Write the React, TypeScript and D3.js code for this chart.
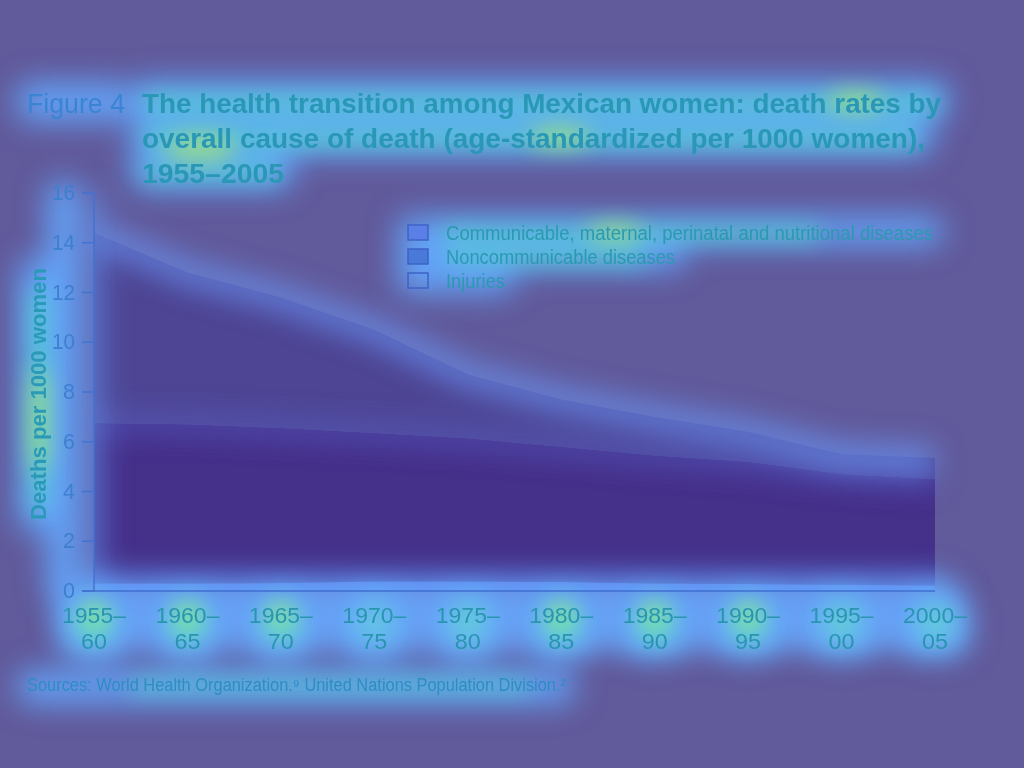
import React from "react";
import * as d3 from "d3";

// periods on the x axis, split into the two printed lines
const periodStart = ["1955–", "1960–", "1965–", "1970–", "1975–", "1980–", "1985–", "1990–", "1995–", "2000–"];
const periodEnd = ["60", "65", "70", "75", "80", "85", "90", "95", "00", "05"];

// deaths per 1000 women, stacked bottom -> top
const injuries = [0.3, 0.3, 0.32, 0.38, 0.38, 0.36, 0.3, 0.28, 0.25, 0.22];
const noncommunicable = [6.45, 6.4, 6.23, 5.97, 5.76, 5.44, 5.15, 4.92, 4.45, 4.28];
const communicable = [7.65, 6.1, 5.25, 4.15, 2.56, 1.9, 1.55, 1.2, 0.8, 0.85];

const yTicks = [0, 2, 4, 6, 8, 10, 12, 14, 16];
const legendLabels = [
    "Communicable, maternal, perinatal and nutritional diseases",
    "Noncommunicable diseases",
    "Injuries",
];
const titleLines = [
    "The health transition among Mexican women: death rates by",
    "overall cause of death (age-standardized per 1000 women),",
    "1955–2005",
];
const sourceNote = "Sources: World Health Organization.⁹ United Nations Population Division.²";

const W = 1024;
const H = 768;
const FONT = "'Liberation Sans Narrow', 'Liberation Sans', Arial, sans-serif";

const keys = ["injuries", "noncommunicable", "communicable"];
const fills: Record<string, string> = {
    injuries: "#5a74dc",
    noncommunicable: "#45308a",
    communicable: "#4e4594",
};

// heat overlay regions [x, y, w, h]
const blueGlow = [
    [16, 82, 116, 40],
    [130, 80, 820, 40], [130, 116, 804, 40], [130, 150, 164, 40],
    [396, 216, 548, 30], [396, 240, 290, 30], [396, 264, 120, 30],
    [18, 258, 42, 274],
    [46, 180, 36, 422],
    [16, 670, 560, 34],
];
const cyanGlow = [
    [142, 94, 796, 18], [142, 129, 776, 18], [142, 164, 136, 16],
    [440, 226, 380, 14], [446, 250, 200, 14],
    [30, 290, 18, 220],
    [130, 680, 400, 12],
];
const hotSpots = [
    [200, 148, 36, 13], [855, 101, 28, 10], [560, 137, 30, 10],
    [615, 232, 28, 9], [39, 420, 9, 55],
];

const App = () => {
    const x = d3.scaleLinear().domain([0, periodEnd.length - 1]).range([94, 935]);
    const y = d3.scaleLinear().domain([0, 16]).range([591, 193]);

    const rows = periodEnd.map((_, i) => ({
        injuries: injuries[i],
        noncommunicable: noncommunicable[i],
        communicable: communicable[i],
    }));
    const series = d3.stack<any>().keys(keys)(rows);
    const area = d3
        .area<any>()
        .x((_, i) => x(i))
        .y0(d => y(d[0]))
        .y1(d => y(d[1]));
    const line = d3
        .line<any>()
        .x((_, i) => x(i))
        .y(d => y(d[1]));

    const tickHeat = [0.75, 0.75, 0.7, 0.35, 0.45, 0.75, 0.75, 0.7, 0.5, 0.45];

    return (
        <svg width={W} height={H} style={{ position: "absolute", left: 0, top: 0, display: "block" }}
            fontFamily={FONT}>
            <defs>
                <filter id="blurBig" filterUnits="userSpaceOnUse" x={-200} y={-200} width={W + 400} height={H + 400}>
                    <feGaussianBlur stdDeviation={15} />
                </filter>
                <filter id="blurMid" filterUnits="userSpaceOnUse" x={-200} y={-200} width={W + 400} height={H + 400}>
                    <feGaussianBlur stdDeviation={11} />
                </filter>
                <filter id="blurSoft" filterUnits="userSpaceOnUse" x={-200} y={-200} width={W + 400} height={H + 400}>
                    <feGaussianBlur stdDeviation={14} />
                </filter>
            </defs>
            <rect width={W} height={H} fill="#615a9b" />

            {/* stacked areas */}
            {series.map(s => (
                <path key={s.key} d={area(s) || ""} fill={fills[s.key]} />
            ))}

            {/* heat overlay */}
            <g filter="url(#blurSoft)">
                <path d={line(series[2]) || ""} fill="none" stroke="#6a96f6" strokeWidth={24} opacity={0.75} />
                <path d={line(series[1]) || ""} fill="none" stroke="#5866d0" strokeWidth={16} opacity={0.6} />
                <line x1={94} x2={94} y1={y(16)} y2={y(0)} stroke="#6494f0" strokeWidth={20} opacity={0.55} />
                <rect x={60} y={y(0) - 16} width={900} height={74} rx={24} fill="#68a6ff" opacity={0.85} />
            </g>
            <g filter="url(#blurBig)">
                {blueGlow.map((b, i) => (
                    <rect key={i} x={b[0]} y={b[1]} width={b[2]} height={b[3]} rx={16} fill="#64a8ff" opacity={0.9} />
                ))}
                {periodStart.map((p, i) => (
                    <rect key={p} x={x(i) - 34} y={596} width={68} height={60} rx={22} fill="#66b0ff" />
                ))}
            </g>
            <g filter="url(#blurMid)">
                {cyanGlow.map((b, i) => (
                    <rect key={i} x={b[0]} y={b[1]} width={b[2]} height={b[3]} rx={8} fill="#4fdcc8" opacity={0.7} />
                ))}
                {periodStart.map((p, i) => (
                    <ellipse key={p} cx={x(i)} cy={622} rx={18} ry={20} fill="#5ee6b0" opacity={tickHeat[i]} />
                ))}
            </g>
            <g filter="url(#blurMid)">
                {hotSpots.map((h, i) => (
                    <ellipse key={i} cx={h[0]} cy={h[1]} rx={h[2]} ry={h[3]} fill="#b4f060" opacity={0.65} />
                ))}
                {periodStart.map((p, i) => (
                    tickHeat[i] > 0.6
                        ? <ellipse key={p} cx={x(i)} cy={615} rx={11} ry={9} fill="#b8f060" opacity={0.7} />
                        : null
                ))}
            </g>

            {/* axes */}
            <line x1={94} x2={94} y1={y(16)} y2={y(0)} stroke="#4272d2" strokeWidth={1.5} />
            <line x1={82} x2={935} y1={y(0)} y2={y(0)} stroke="#3f6fd0" strokeWidth={1.5} />
            {yTicks.map(v => (
                <line key={v} x1={82} x2={94} y1={y(v)} y2={y(v)} stroke="#4272d2" strokeWidth={1.5} />
            ))}
            {yTicks.map(v => (
                <text key={"t" + v} x={75} y={y(v) + 7} fontSize={22} textAnchor="end" fill="#3d7fd0"
                    textLength={v >= 10 ? 23 : 12} lengthAdjust="spacingAndGlyphs">{v}</text>
            ))}
            {periodStart.map((p, i) => (
                <text key={p} y={623} fontSize={22} textAnchor="middle" fill="#2a95b0">
                    <tspan x={x(i)} textLength={64} lengthAdjust="spacingAndGlyphs">{p}</tspan>
                    <tspan x={x(i)} dy={25.5} textLength={26} lengthAdjust="spacingAndGlyphs">{periodEnd[i]}</tspan>
                </text>
            ))}
            <text transform="translate(46 394) rotate(-90)" fontSize={22} fontWeight="bold" textAnchor="middle"
                fill="#2a9ab8" textLength={252} lengthAdjust="spacingAndGlyphs">Deaths per 1000 women</text>

            {/* title */}
            <text x={27} y={113} fontSize={28} fill="#3a84d4" textLength={98} lengthAdjust="spacingAndGlyphs">Figure 4</text>
            {titleLines.map((t, i) => (
                <text key={t} x={142} y={113 + i * 35} fontSize={28} fontWeight="bold" fill="#2a97b6"
                    textLength={[799, 783, 142][i]} lengthAdjust="spacingAndGlyphs">{t}</text>
            ))}

            {/* legend */}
            {legendLabels.map((l, i) => (
                <g key={l}>
                    <rect x={408} y={225 + i * 24} width={20} height={15}
                        fill={["#5a7fe6", "#4a7ad8", "none"][i]} stroke="#3e63c6" strokeWidth={1.5} />
                    <text x={446} y={240 + i * 24} fontSize={20} fill="#2a9ab0"
                        textLength={[487, 229, 59][i]} lengthAdjust="spacingAndGlyphs">{l}</text>
                </g>
            ))}

            {/* sources */}
            <text x={27} y={691} fontSize={18} fill="#2f8cc4" textLength={539} lengthAdjust="spacingAndGlyphs">
                {sourceNote}
            </text>
        </svg>
    );
};

export default App;
